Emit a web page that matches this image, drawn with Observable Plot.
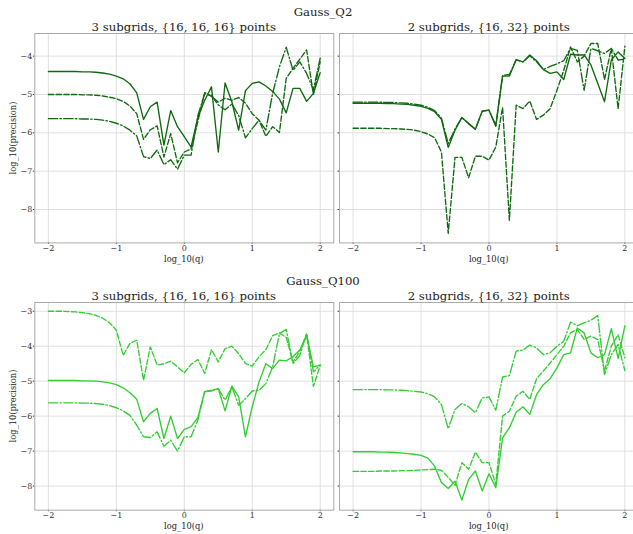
<!DOCTYPE html>
<html><head><meta charset="utf-8">
<script src="https://cdn.jsdelivr.net/npm/d3@7"></script>
<script src="https://cdn.jsdelivr.net/npm/@observablehq/plot@0.6"></script>
<style>
body{margin:0;background:#fff;overflow:hidden;}
#fig{position:relative;width:633px;height:534px;overflow:hidden;font-family:"DejaVu Serif",serif;color:#222;background:#fff;}
.t{position:absolute;white-space:nowrap;line-height:1;}
</style></head><body><div id="fig"></div>
<script>
// x positions: log_10(q)
const logq = [-2.0,-1.9,-1.8,-1.7,-1.6,-1.5,-1.4,-1.3,-1.2,-1.1,-1.0,-0.9,-0.8,-0.7,-0.6,-0.5,-0.4,-0.3,-0.2,-0.1,0.0,0.1,0.2,0.3,0.4,0.5,0.6,0.7,0.8,0.9,1.0,1.1,1.2,1.3,1.4,1.5,1.6,1.7,1.8,1.9,2.0];

// Gauss_Q2, 3 subgrids
const q2_3_solid = [-4.40,-4.40,-4.40,-4.40,-4.40,-4.41,-4.41,-4.42,-4.44,-4.47,-4.52,-4.59,-4.72,-4.96,-5.65,-5.32,-5.20,-6.32,-5.42,-5.84,-6.10,-6.37,-5.60,-5.15,-4.80,-6.50,-4.70,-5.19,-5.93,-4.90,-4.71,-4.67,-4.78,-4.92,-5.12,-5.48,-4.84,-4.84,-5.18,-4.97,-4.43];
const q2_3_dashed = [-5.00,-5.00,-5.00,-5.00,-5.00,-5.01,-5.01,-5.02,-5.04,-5.07,-5.11,-5.18,-5.30,-5.50,-6.17,-5.92,-5.82,-6.63,-6.02,-6.78,-6.50,-6.42,-5.70,-4.95,-5.05,-5.20,-5.10,-5.15,-5.08,-5.23,-5.50,-5.67,-6.09,-5.84,-5.99,-4.58,-4.32,-4.08,-3.84,-5.00,-4.15];
const q2_3_dashdot = [-5.63,-5.63,-5.63,-5.63,-5.63,-5.64,-5.64,-5.65,-5.67,-5.70,-5.75,-5.82,-5.93,-6.08,-6.62,-6.67,-6.45,-6.83,-6.70,-6.95,-6.58,-6.58,-5.55,-4.98,-5.02,-5.27,-5.40,-5.25,-5.55,-6.13,-5.89,-5.67,-5.93,-4.97,-4.28,-3.77,-4.37,-4.15,-4.45,-4.88,-4.05];

// Gauss_Q2, 2 subgrids
const q2_2_solid = [-5.23,-5.23,-5.23,-5.23,-5.23,-5.24,-5.24,-5.25,-5.26,-5.28,-5.31,-5.36,-5.45,-5.65,-6.38,-5.93,-5.60,-5.76,-5.91,-5.43,-5.41,-5.83,-4.52,-4.52,-4.09,-4.15,-3.97,-4.12,-4.35,-4.45,-4.41,-4.61,-3.95,-3.97,-3.97,-4.23,-4.71,-5.19,-4.10,-3.89,-4.06];
const q2_2_dashed = [-5.88,-5.88,-5.88,-5.88,-5.88,-5.89,-5.89,-5.90,-5.91,-5.93,-5.97,-6.03,-6.13,-6.50,-8.62,-6.64,-6.64,-7.17,-6.61,-6.61,-6.71,-6.37,-5.34,-8.28,-5.28,-5.37,-5.17,-5.65,-5.54,-5.37,-4.89,-4.37,-3.76,-4.15,-4.00,-3.67,-3.67,-4.61,-3.80,-5.37,-3.74];
const q2_2_dashdot = [-5.20,-5.20,-5.20,-5.20,-5.20,-5.21,-5.21,-5.22,-5.23,-5.25,-5.28,-5.33,-5.42,-5.62,-6.28,-5.90,-5.60,-5.76,-5.90,-5.44,-5.41,-5.80,-4.50,-4.48,-4.10,-4.15,-3.99,-4.15,-4.35,-4.27,-4.20,-4.12,-3.80,-3.85,-4.89,-3.80,-3.86,-3.93,-3.80,-4.10,-4.08];

// Gauss_Q100, 3 subgrids
const q100_3_solid = [-4.98,-4.98,-4.98,-4.98,-4.98,-4.99,-4.99,-5.00,-5.02,-5.05,-5.10,-5.19,-5.33,-5.52,-6.16,-5.92,-5.78,-6.64,-6.00,-6.64,-6.38,-6.30,-6.04,-5.30,-5.28,-5.21,-5.85,-5.14,-5.45,-6.59,-5.73,-5.02,-4.50,-4.64,-4.40,-4.42,-4.30,-4.11,-3.69,-4.59,-4.54];
const q100_3_dashed = [-3.00,-3.00,-3.00,-3.01,-3.02,-3.04,-3.07,-3.12,-3.20,-3.33,-3.54,-4.26,-3.92,-3.83,-4.97,-4.02,-4.54,-4.50,-4.43,-4.59,-4.76,-4.52,-4.38,-4.78,-4.10,-4.45,-4.07,-4.00,-4.21,-4.50,-4.57,-4.30,-4.10,-3.70,-3.62,-3.75,-4.45,-4.15,-3.65,-5.15,-4.55];
const q100_3_dashdot = [-5.62,-5.62,-5.62,-5.62,-5.62,-5.63,-5.63,-5.64,-5.66,-5.70,-5.76,-5.85,-5.98,-6.26,-6.59,-6.61,-6.45,-6.86,-6.69,-7.00,-6.59,-6.59,-6.11,-5.30,-5.26,-5.21,-5.54,-5.16,-5.69,-5.50,-5.28,-5.26,-5.07,-4.59,-3.64,-3.52,-4.50,-4.26,-3.64,-4.73,-4.54];

// Gauss_Q100, 2 subgrids
const q100_2_solid = [-7.02,-7.02,-7.02,-7.02,-7.03,-7.03,-7.04,-7.05,-7.07,-7.09,-7.12,-7.20,-7.43,-7.90,-8.07,-7.86,-8.40,-7.81,-7.57,-8.14,-7.65,-8.05,-6.62,-6.33,-5.89,-5.73,-5.95,-5.38,-5.10,-4.93,-4.62,-4.24,-4.19,-3.48,-3.62,-4.19,-4.33,-4.24,-3.50,-4.35,-3.41];
const q100_2_dashed = [-7.58,-7.58,-7.58,-7.58,-7.57,-7.57,-7.57,-7.56,-7.56,-7.55,-7.54,-7.53,-7.52,-7.55,-7.75,-7.98,-7.33,-7.52,-7.03,-7.33,-7.33,-7.95,-6.00,-5.86,-5.43,-5.29,-5.52,-4.93,-4.71,-4.48,-4.24,-4.00,-3.62,-3.52,-3.81,-3.71,-3.81,-4.71,-4.00,-3.67,-4.33];
const q100_2_dashdot = [-5.24,-5.24,-5.24,-5.24,-5.24,-5.25,-5.25,-5.26,-5.27,-5.29,-5.31,-5.36,-5.45,-5.67,-6.36,-5.81,-5.64,-5.73,-5.90,-5.48,-5.45,-5.83,-4.88,-4.84,-4.14,-4.11,-3.97,-4.05,-4.24,-4.19,-4.00,-3.86,-3.31,-3.41,-3.33,-3.26,-3.12,-4.81,-4.24,-3.95,-4.70];

// tick values
const xTicks = [-2, -1, 0, 1, 2];
const yTicksQ2 = [-8, -7, -6, -5, -4];
const yTicksQ100 = [-8, -7, -6, -5, -4, -3];

// text
const rowTitles = ["Gauss_Q2", "Gauss_Q100"];
const panelTitles = ["3 subgrids, {16, 16, 16} points", "2 subgrids, {16, 32} points"];
const xLabel = "log_10(q)";
const yLabel = "log_10(precision)";

const fig = document.getElementById("fig");
const DASH = "5.4,2.3";
const DASHDOT = "9.3,2.3,1.45,2.3";
const intFmt = d3.format("d");

function addText(txt, css) {
  const d = document.createElement("div");
  d.className = "t";
  d.textContent = txt;
  Object.assign(d.style, css);
  fig.appendChild(d);
}

function panel(p) {
  const mL = p.showY ? 34.3 : 8, mR = 8, mT = 4, mB = 30;
  const fw = 299;
  const W = mL + fw + mR, H = mT + p.fh + mB;
  const rows = (arr) => logq.map((x, i) => ({x, y: arr[i]}));
  const chart = Plot.plot({
    width: W, height: H,
    marginLeft: mL, marginRight: mR, marginTop: mT, marginBottom: mB,
    style: {background: "transparent", maxWidth: "none", overflow: "visible",
            fontFamily: "'DejaVu Serif', serif", fontSize: "8px", color: "#333"},
    x: {domain: [-2.2, 2.2], ticks: xTicks, tickSize: 1.5, tickPadding: 1, label: null, tickFormat: intFmt},
    y: {domain: p.ydom, ticks: p.yticks, tickSize: 1.5, tickPadding: 1, label: null,
        tickFormat: p.showY ? intFmt : () => ""},
    marks: [
      Plot.ruleX(xTicks, {stroke: "#dcdcdc", strokeWidth: 0.9}),
      Plot.ruleY(p.yticks, {stroke: "#dcdcdc", strokeWidth: 0.9}),
      Plot.line(rows(p.solid), {x: "x", y: "y", stroke: p.color, strokeWidth: 1.35}),
      Plot.line(rows(p.dashed), {x: "x", y: "y", stroke: p.color, strokeWidth: 1.35, strokeDasharray: DASH}),
      Plot.line(rows(p.dashdot), {x: "x", y: "y", stroke: p.color, strokeWidth: 1.35, strokeDasharray: DASHDOT}),
      Plot.frame({stroke: "#aaaaaa", strokeWidth: 1})
    ]
  });
  chart.style.position = "absolute";
  chart.style.left = (p.fl - mL) + "px";
  chart.style.top = (p.ft - mT) + "px";
  fig.appendChild(chart);

  const cx = p.fl + fw / 2;
  addText(panelTitles[p.col], {fontSize: "11.7px", left: cx + "px", top: (p.ft - 11.7) + "px", transform: "translateX(-50%)"});
  addText(xLabel, {fontSize: "8.3px", left: cx + "px", top: (p.ft + p.fh + 11.8) + "px", transform: "translateX(-50%)"});
  if (p.showY) {
    addText(yLabel, {fontSize: "8.3px", left: "12.5px", top: (p.ft + p.fh / 2) + "px", transform: "translate(-50%,-50%) rotate(-90deg)"});
  }
}

const G1 = "#0f690f", G2 = "#32cd32";
panel({fl: 34.3, ft: 33.3, fh: 209.4, ydom: [-8.87, -3.41], yticks: yTicksQ2, showY: true, col: 0, color: G1, solid: q2_3_solid, dashed: q2_3_dashed, dashdot: q2_3_dashdot});
panel({fl: 339.2, ft: 33.3, fh: 209.4, ydom: [-8.87, -3.41], yticks: yTicksQ2, showY: false, col: 1, color: G1, solid: q2_2_solid, dashed: q2_2_dashed, dashdot: q2_2_dashdot});
panel({fl: 34.3, ft: 302.3, fh: 207.7, ydom: [-8.69, -2.75], yticks: yTicksQ100, showY: true, col: 0, color: G2, solid: q100_3_solid, dashed: q100_3_dashed, dashdot: q100_3_dashdot});
panel({fl: 339.2, ft: 302.3, fh: 207.7, ydom: [-8.69, -2.75], yticks: yTicksQ100, showY: false, col: 1, color: G2, solid: q100_2_solid, dashed: q100_2_dashed, dashdot: q100_2_dashdot});

addText(rowTitles[0], {fontSize: "11.7px", left: "0px", width: "646px", textAlign: "center", top: "7.4px"});
addText(rowTitles[1], {fontSize: "11.7px", left: "0px", width: "646px", textAlign: "center", top: "275.8px"});
</script>
</body></html>
